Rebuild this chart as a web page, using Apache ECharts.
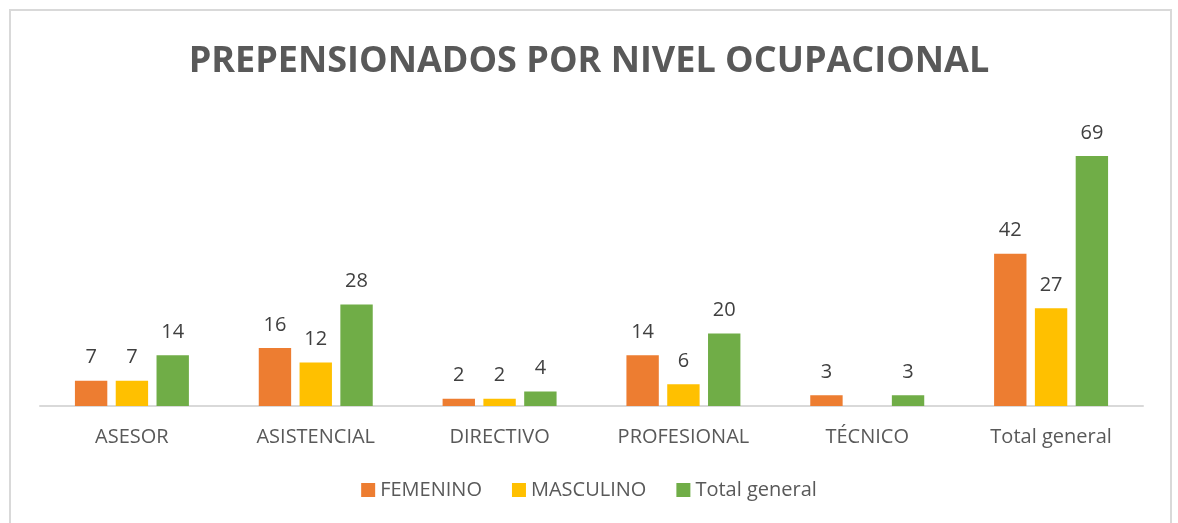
<!DOCTYPE html>
<html>
<head>
<meta charset="utf-8">
<script src="https://cdn.jsdelivr.net/npm/echarts@6/dist/echarts.min.js"></script>
<style>
  html, body { margin: 0; padding: 0; background: #fff; }
  #frame { position: absolute; left: 9px; top: 9px; width: 1163px; height: 560px; border: 2px solid #d9d9d9; box-sizing: border-box; }
  #chart { position: absolute; left: 0; top: 0; width: 1178px; height: 523px; }
</style>
</head>
<body>
<div id="frame"></div>
<div id="chart"></div>
<script>
// niveles ocupacionales
const categories = ["ASESOR", "ASISTENCIAL", "DIRECTIVO", "PROFESIONAL", "TÉCNICO", "Total general"];
const femenino = [7, 16, 2, 14, 3, 42];
const masculino = [7, 12, 2, 6, "-", 27];
const totalGeneral = [14, 28, 4, 20, 3, 69];

const font = "'Open Sans', 'Noto Sans', sans-serif";
const chart = echarts.init(document.getElementById("chart"));

function barSeries(name, data, color) {
  return {
    name: name,
    type: "bar",
    data: data,
    barGap: "26%",
    barCategoryGap: "38%",
    itemStyle: { color: color },
    label: {
      show: true,
      position: "top",
      distance: 13,
      color: "#404040",
      fontSize: 20,
      fontFamily: font
    }
  };
}

chart.setOption({
  animation: false,
  title: {
    text: "PREPENSIONADOS POR NIVEL OCUPACIONAL",
    left: "center",
    top: 39,
    textStyle: { color: "#595959", fontSize: 36, fontWeight: "bold", fontFamily: font }
  },
  legend: {
    bottom: 18,
    left: "center",
    itemWidth: 14,
    itemHeight: 14,
    itemGap: 30,
    icon: "rect",
    textStyle: { color: "#595959", fontSize: 20, fontFamily: font },
    data: ["FEMENINO", "MASCULINO", "Total general"]
  },
  grid: { left: 40, right: 35, top: 116, bottom: 117, containLabel: false },
  xAxis: {
    type: "category",
    data: categories,
    axisLine: { lineStyle: { color: "#d9d9d9", width: 2 } },
    axisTick: { show: false },
    axisLabel: { color: "#595959", fontSize: 20, fontFamily: font, margin: 21 }
  },
  yAxis: {
    type: "value",
    min: 0,
    max: 80,
    show: false,
    splitLine: { show: false }
  },
  series: [
    barSeries("FEMENINO", femenino, "#ed7d31"),
    barSeries("MASCULINO", masculino, "#ffc000"),
    barSeries("Total general", totalGeneral, "#70ad47")
  ]
});
</script>
</body>
</html>
